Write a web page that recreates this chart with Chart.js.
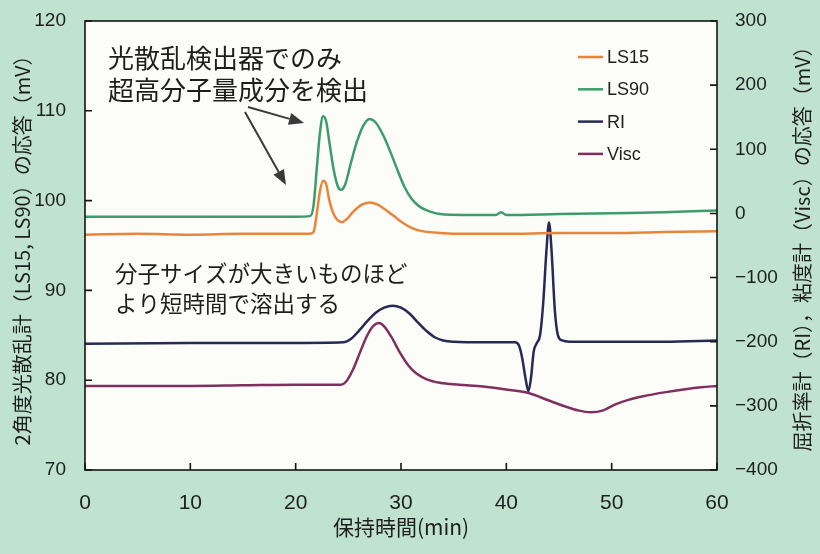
<!DOCTYPE html>
<html><head><meta charset="utf-8">
<script src="https://cdn.jsdelivr.net/npm/chart.js@4"></script>
<style>html,body{margin:0;padding:0;background:#c0e3d1;}#wrap{width:820px;height:554px;position:relative;}</style>
</head><body><div id="wrap"><canvas id="c" width="820" height="554"></canvas></div>
<script>
// ---- data (retention time in min, response in mV) ----
const ls15Time  = [0,5,10,15,20,21.3,21.7,22.0,22.3,22.6,22.9,23.2,23.6,24.0,24.4,24.9,25.5,26.2,27.0,27.7,28.5,29.3,30.2,31.1,32.0,33.7,36,40,45,50,55,60];
const ls15Value = [96.2,96.3,96.2,96.3,96.3,96.3,96.5,98.5,101.0,102.2,101.8,100.0,98.5,97.8,97.6,98.0,98.8,99.5,99.8,99.6,99.0,98.3,97.5,96.9,96.6,96.4,96.3,96.3,96.4,96.4,96.5,96.6];
const ls90Time  = [0,10,20,21.4,21.7,22.0,22.3,22.6,22.9,23.2,23.6,24.0,24.3,24.7,25.2,25.8,26.4,27.0,27.6,28.3,29.0,29.7,30.3,31.0,31.8,32.7,33.7,36,39,39.5,40,45,50,55,60];
const ls90Value = [98.2,98.2,98.2,98.3,99.5,103.5,107.5,109.4,108.8,106.5,103.5,101.6,101.2,101.8,104.0,106.5,108.3,109.1,108.7,107.3,105.4,103.3,101.6,100.2,99.3,98.8,98.5,98.4,98.4,98.7,98.4,98.5,98.6,98.7,98.9];
const riTime    = [0,10,20,24.5,25.3,26.0,26.8,27.6,28.4,29.2,30.0,30.8,31.6,32.4,33.2,34.0,35.0,38,40.8,41.2,41.5,41.8,42.1,42.35,42.6,42.9,43.2,43.5,43.8,44.05,44.3,44.6,44.9,45.3,46,50,55,60];
const riValue   = [-203,-202,-202,-201,-195,-183,-168,-155,-147,-144,-147,-156,-170,-183,-193,-198,-200,-201,-201,-206,-225,-255,-277,-255,-215,-202,-190,-140,-60,-14,-60,-150,-190,-198,-200,-200,-200,-198];
const viscTime  = [0,10,15,20,24.3,24.8,25.4,26.1,26.8,27.4,27.9,28.4,29.1,29.9,30.7,31.5,32.5,33.7,35.5,37.8,40.1,42.1,43.3,44.4,45.6,46.8,48.0,49.2,50.3,51.5,53,55,57,58.5,60];
const viscValue = [-269,-269,-268,-267,-267,-262,-245,-217,-190,-175,-171,-176,-193,-217,-237,-250,-259,-264,-267,-270,-275,-280,-287,-294,-301,-307,-310,-307,-298,-291,-285,-279,-274,-271,-269];
const xTickValues     = [0,10,20,30,40,50,60];
const leftTickValues  = [70,80,90,100,110,120];
const rightTickValues = [-400,-300,-200,-100,0,100,200,300];
const seriesNames  = ['LS15','LS90','RI','Visc'];
const seriesColors = ['#e8853a','#3d9c6c','#262a55','#80305e'];

const pts = (t, v) => t.map((x, i) => ({x: x, y: v[i]}));
const CJK = '"Noto Sans CJK JP", "Noto Sans", sans-serif';

const deco = {
  id: 'deco',
  beforeDraw(chart) {
    const c = chart.ctx, a = chart.chartArea;
    c.save();
    c.fillStyle = '#c0e3d1'; c.fillRect(0, 0, chart.width, chart.height);
    c.fillStyle = '#fcfcf8'; c.fillRect(a.left, a.top, a.right - a.left, a.bottom - a.top);
    c.restore();
  },
  afterDatasetsDraw(chart) {
    const c = chart.ctx, a = chart.chartArea, s = chart.scales;
    c.save();
    c.strokeStyle = '#151515'; c.lineWidth = 1.6;
    c.strokeRect(a.left, a.top, a.right - a.left, a.bottom - a.top);
    c.beginPath();
    xTickValues.forEach(v => { const p = s.x.getPixelForValue(v); c.moveTo(p, a.bottom); c.lineTo(p, a.bottom - 7); });
    leftTickValues.forEach(v => { const p = s.y.getPixelForValue(v); c.moveTo(a.left, p); c.lineTo(a.left + 7, p); });
    rightTickValues.forEach(v => { const p = s.y2.getPixelForValue(v); c.moveTo(a.right, p); c.lineTo(a.right - 7, p); });
    c.stroke();

    // legend
    c.font = '18px "Liberation Sans", Arial, sans-serif';
    c.textBaseline = 'middle'; c.textAlign = 'left';
    chart.data.datasets.forEach((d, i) => {
      const y = 57 + i * 32.3;
      c.strokeStyle = d.borderColor; c.lineWidth = 2.5;
      c.beginPath(); c.moveTo(578, y); c.lineTo(603, y); c.stroke();
      c.fillStyle = '#1e1e1e'; c.fillText(d.label, 607, y + 1);
    });

    // annotations
    c.fillStyle = '#1e1e1e';
    c.font = '26px ' + CJK;
    c.fillText('光散乱検出器でのみ', 108, 58);
    c.fillText('超高分子量成分を検出', 108, 90);
    c.font = '22.5px ' + CJK;
    c.fillText('分子サイズが大きいものほど', 115, 273);
    c.fillText('より短時間で溶出する', 115, 303);

    const arrow = (x1, y1, x2, y2) => {
      const ang = Math.atan2(y2 - y1, x2 - x1), L = 15, W = 6;
      const bx = x2 - L * Math.cos(ang), by = y2 - L * Math.sin(ang);
      c.strokeStyle = '#3a3a3a'; c.lineWidth = 2;
      c.beginPath(); c.moveTo(x1, y1); c.lineTo(bx, by); c.stroke();
      c.fillStyle = '#3a3a3a';
      c.beginPath(); c.moveTo(x2, y2);
      c.lineTo(bx + W * Math.sin(ang), by - W * Math.cos(ang));
      c.lineTo(bx - W * Math.sin(ang), by + W * Math.cos(ang));
      c.closePath(); c.fill();
    };
    arrow(248, 107, 304, 123);
    arrow(245, 112, 286, 185);

    // right axis title (reads bottom to top)
    c.fillStyle = '#1e1e1e';
    c.font = '20px ' + CJK;
    c.textAlign = 'center';
    c.translate(802, 244); c.rotate(-Math.PI / 2);
    c.fillText('屈折率計（RI），粘度計（Visc）の応答（mV）', 0, 0);
    c.restore();
  }
};

const noPadV = s => { s.paddingTop = 0; s.paddingBottom = 0; };

new Chart(document.getElementById('c'), {
  type: 'line',
  data: {
    datasets: [
      {label: seriesNames[0], data: pts(ls15Time, ls15Value), borderColor: seriesColors[0], yAxisID: 'y'},
      {label: seriesNames[1], data: pts(ls90Time, ls90Value), borderColor: seriesColors[1], yAxisID: 'y'},
      {label: seriesNames[2], data: pts(riTime, riValue),     borderColor: seriesColors[2], yAxisID: 'y2'},
      {label: seriesNames[3], data: pts(viscTime, viscValue), borderColor: seriesColors[3], yAxisID: 'y2'}
    ]
  },
  options: {
    responsive: false, animation: false, devicePixelRatio: 1,
    parsing: false,
    elements: {
      point: {radius: 0},
      line: {borderWidth: 2.5, cubicInterpolationMode: 'monotone', fill: false}
    },
    layout: {padding: {top: 21, left: 0, right: 0, bottom: 0}},
    plugins: {legend: {display: false}, tooltip: {enabled: false}},
    scales: {
      x: {
        type: 'linear', position: 'bottom', min: 0, max: 60,
        afterBuildTicks: s => { s.ticks = xTickValues.map(v => ({value: v})); },
        afterFit: s => { s.height = 84; s.paddingLeft = 0; s.paddingRight = 0; },
        grid: {display: false, drawTicks: false}, border: {display: false},
        ticks: {padding: 21, color: '#1e1e1e', maxRotation: 0, font: {family: '"Liberation Sans Narrow", "Liberation Sans", Arial', size: 21}},
        title: {display: true, text: '保持時間(min)', color: '#1e1e1e', padding: {top: 0, bottom: 14}, font: {family: CJK, size: 21}}
      },
      y: {
        type: 'linear', position: 'left', min: 70, max: 120,
        afterBuildTicks: s => { s.ticks = leftTickValues.map(v => ({value: v})); },
        afterFit: s => { s.width = 85; noPadV(s); },
        grid: {display: false, drawTicks: false}, border: {display: false},
        ticks: {padding: 19, color: '#1e1e1e', font: {family: '"Liberation Sans", Arial', size: 19}},
        title: {display: true, text: '2角度光散乱計（LS15, LS90）の応答（mV）', color: '#1e1e1e', padding: {top: 10, bottom: 0}, font: {family: CJK, size: 20}}
      },
      y2: {
        type: 'linear', position: 'right', min: -400, max: 300,
        afterBuildTicks: s => { s.ticks = rightTickValues.map(v => ({value: v})); },
        afterFit: s => { s.width = 103; noPadV(s); },
        grid: {display: false, drawTicks: false}, border: {display: false},
        ticks: {padding: 18, color: '#1e1e1e', font: {family: '"Liberation Sans", Arial', size: 19}, callback: v => String(v).replace('-', '\u2212')}
      }
    }
  },
  plugins: [deco]
});
</script></body></html>
